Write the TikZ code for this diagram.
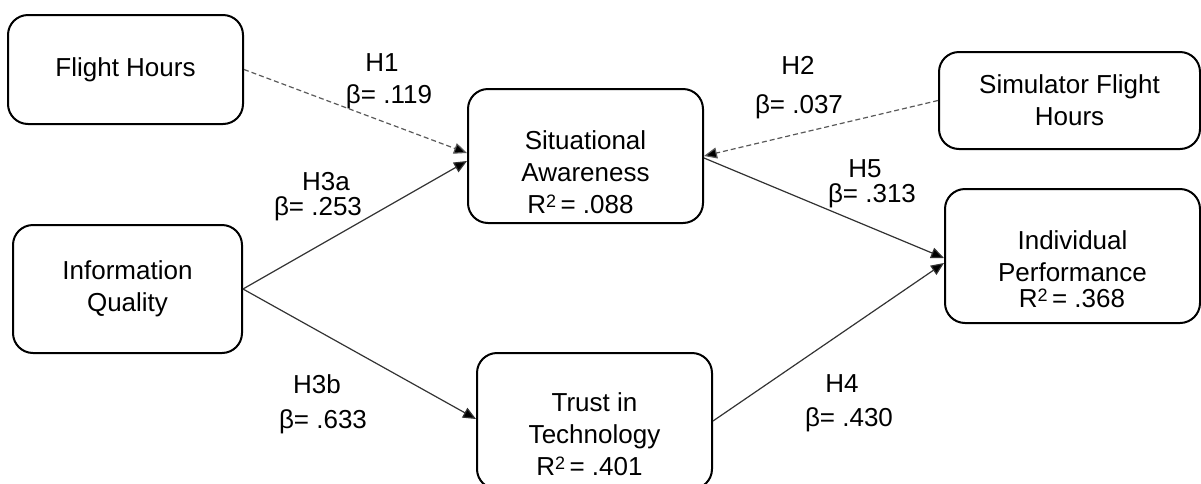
\documentclass[tikz,border=0pt]{standalone}
\usepackage{fontspec}
\setmainfont{Liberation Sans}
\usetikzlibrary{arrows.meta}

\newcommand{\rsq}{R\raisebox{0.42ex}{\fontsize{9}{9}\selectfont 2}\,=}

\begin{document}
\begin{tikzpicture}[x=0.5pt, y=-0.5pt,
  font=\fontsize{13}{16.2}\selectfont,
  box/.style={draw, line width=1pt, rounded corners=10pt, align=center,
    inner sep=0pt, minimum width=117.5pt},
  link/.style={draw=black!80, line width=0.6pt, -{Triangle[length=6.5pt, width=5.5pt, fill=black]}},
  weak/.style={link, draw=black!65, dash pattern=on 2.5pt off 1.5pt},
  hyp/.style={anchor=base}]
\useasboundingbox (0,0) rectangle (1201,483);

% constructs
\node[box, minimum height=54.5pt] (fh) at (125.5,69.5) {Flight Hours};
\node[box, minimum height=67pt] (sa) at (585.5,156) {Situational\\Awareness};
\node[box, minimum width=130.5pt, minimum height=48.5pt] (sim) at (1069.5,100.5) {Simulator Flight\\Hours};
\node[box, minimum width=114.5pt, minimum height=64pt] (iq) at (127.5,289) {Information\\Quality};
\node[box, minimum width=127.5pt, minimum height=67pt] (ip) at (1072.5,256) {Individual\\Performance};
\node[box, minimum height=68pt] (tt) at (594.5,421) {Trust in\\Technology};

% explained variance
\node[hyp] (sa-r) at (580.5,213) {\rsq{} .088};
\node[hyp] (ip-r) at (1072,307) {\rsq{} .368};
\node[hyp] (tt-r) at (589.5,475) {\rsq{} .401};

% paths
\draw[weak] (fh.east) -- ([yshift=1.5pt]sa.west);
\draw[link] (iq.east) -- ([yshift=-2.5pt]sa.west);
\draw[link] (iq.east) -- ([yshift=1pt]tt.west);
\draw[weak] (sim.west) -- (sa.east);
\draw[link] ([yshift=-1pt]sa.east) -- ([yshift=-1pt]ip.west);
\draw[link] (tt.east) -- ([yshift=-3.5pt]ip.west);

% path labels
\node[hyp] (h1) at (382,71) {H1};
\node[hyp] (b1) at (389,103) {β= .119};
\node[hyp] (h2) at (798,74) {H2};
\node[hyp] (b2) at (799,113) {β= .037};
\node[hyp] (h3a) at (326,190) {H3a};
\node[hyp] (b3a) at (318,215) {β= .253};
\node[hyp] (h5) at (865,177) {H5};
\node[hyp] (b5) at (872,202) {β= .313};
\node[hyp] (h3b) at (317,393) {H3b};
\node[hyp] (b3b) at (323,428) {β= .633};
\node[hyp] (h4) at (842,392) {H4};
\node[hyp] (b4) at (849,426) {β= .430};
\end{tikzpicture}
\end{document}
